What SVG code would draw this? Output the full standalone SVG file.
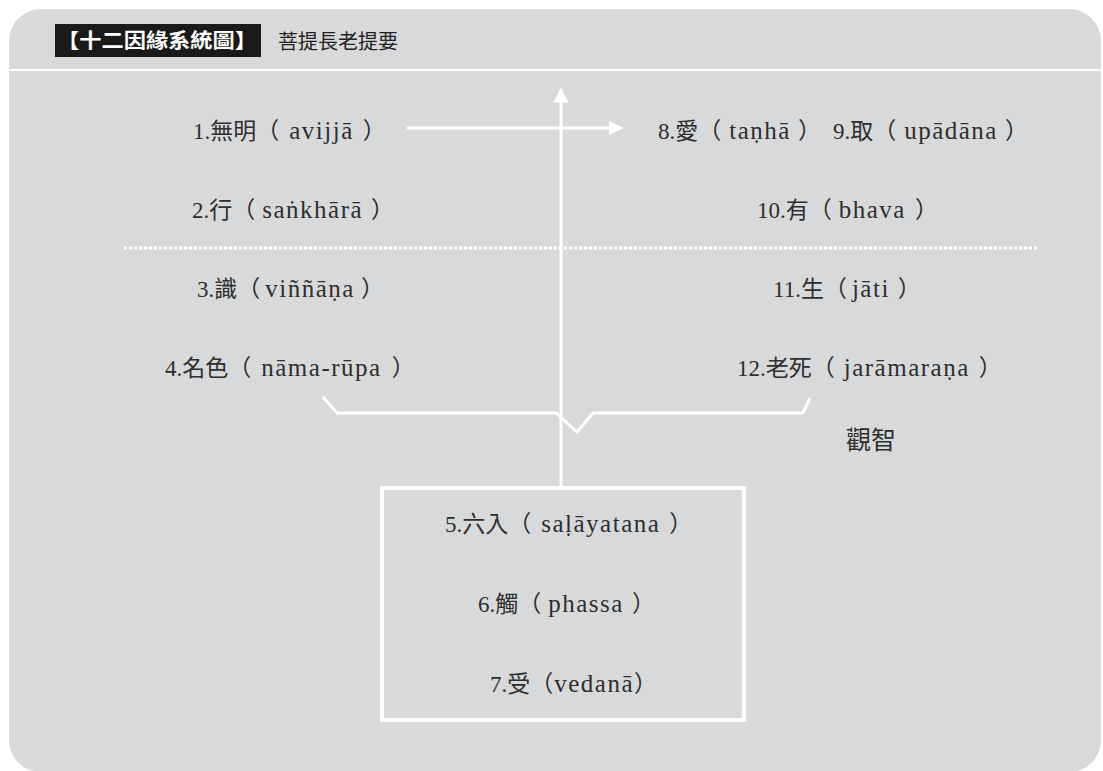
<svg xmlns="http://www.w3.org/2000/svg" width="1103" height="771" viewBox="0 0 1103 771">
<defs>
<style>
.t{font-family:"Liberation Serif","Noto Sans CJK TC",serif;font-size:23px;fill:#2e2e2e;}
.l{font-size:25px;letter-spacing:1.5px;}
.w{stroke:#fff;fill:none;}
</style>
<marker id="ah" viewBox="0 0 10 10" refX="9" refY="5" markerWidth="5" markerHeight="5" orient="auto" markerUnits="strokeWidth">
<path d="M0,0 L10,5 L0,10 z" fill="#fff"/>
</marker>
</defs>
<rect width="1103" height="771" fill="#fff"/>
<rect x="9" y="9" width="1092" height="763" rx="32" fill="#d8d9db"/>
<line x1="9" y1="70" x2="1101" y2="70" class="w" stroke-width="2"/>
<g id="title">
<rect x="55" y="24" width="206" height="33" fill="#1a1a1a"/>
<text x="57" y="48" textLength="200" lengthAdjust="spacingAndGlyphs" style="font-family:'Noto Sans CJK TC',sans-serif;font-size:20px;font-weight:bold;fill:#fff">【十二因緣系統圖】</text>
<text x="278" y="49" style="font-family:'Noto Sans CJK TC',sans-serif;font-size:20px;fill:#222">菩提長老提要</text>
</g>
<g id="connectors">
<line x1="124" y1="248" x2="1037" y2="248" stroke="#fff" stroke-width="3" stroke-dasharray="3,2"/>
<line x1="407" y1="128" x2="622" y2="128" class="w" stroke-width="3" marker-end="url(#ah)"/>
<line x1="561" y1="487" x2="561" y2="89" class="w" stroke-width="3" marker-end="url(#ah)"/>
<path d="M323,397 L337,413 L556,413 L577,432 L593,413 L803,413 L810,398" class="w" stroke-width="3"/>
</g>
<g id="n1"><text class="t" x="193" y="139">1.無明（<tspan class="l" dx="10">avijjā</tspan><tspan dx="9">）</tspan></text></g>
<g id="n2"><text class="t" x="192" y="218">2.行（<tspan class="l" dx="7">saṅkhārā</tspan><tspan dx="8">）</tspan></text></g>
<g id="n3"><text class="t" x="197" y="297">3.識（<tspan class="l" dx="5">viññāṇa</tspan><tspan dx="6">）</tspan></text></g>
<g id="n4"><text class="t" x="165" y="376">4.名色（<tspan class="l" dx="10">nāma-rūpa</tspan><tspan dx="10">）</tspan></text></g>
<g id="n89"><text class="t" x="658" y="139">8.愛（<tspan class="l" dx="8">taṇhā</tspan><tspan dx="7">）</tspan><tspan dx="12">9.取（</tspan><tspan class="l" dx="8">upādāna</tspan><tspan dx="7">）</tspan></text></g>
<g id="n10"><text class="t" x="757" y="218">10.有（<tspan class="l" dx="7">bhava</tspan><tspan dx="9">）</tspan></text></g>
<g id="n11"><text class="t" x="773" y="297">11.生（<tspan class="l" dx="5">jāti</tspan><tspan dx="8">）</tspan></text></g>
<g id="n12"><text class="t" x="737" y="376">12.老死（<tspan class="l" dx="9">jarāmaraṇa</tspan><tspan dx="9">）</tspan></text></g>
<g id="insight"><text class="t" x="846" y="449" style="font-size:25px">觀智</text></g>
<g id="box">
<rect x="382" y="488" width="362" height="232" class="w" stroke-width="4"/>
<text class="t" x="445" y="532">5.六入（<tspan class="l" dx="10">saḷāyatana</tspan><tspan dx="9">）</tspan></text>
<text class="t" x="478" y="612">6.觸（<tspan class="l" dx="7">phassa</tspan><tspan dx="8">）</tspan></text>
<text class="t" x="490" y="692">7.受（<tspan class="l" dx="1">vedanā</tspan><tspan dx="0">）</tspan></text>
</g>
</svg>
